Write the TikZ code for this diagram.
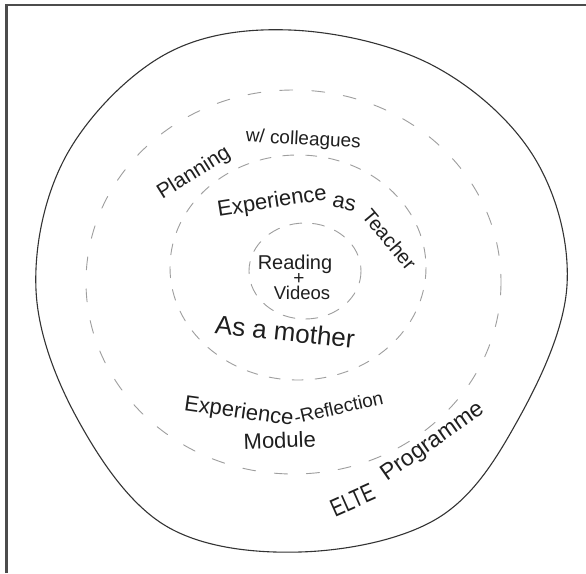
\documentclass[tikz,border=0pt]{standalone}
\usepackage{fontspec}
\setmainfont{Liberation Sans}
\newcommand{\fs}[1]{\fontsize{#1}{#1}\selectfont}
\begin{document}
\begin{tikzpicture}[x=1pt,y=-1pt,
  hand/.style={text=black!88, inner sep=0pt, anchor=base},
  ring/.style={draw=black!38, line width=0.9pt, line cap=round},
  frameline/.style={draw=black!70, line width=2.2pt},
  outer/.style={draw=black!80, line width=1.1pt}]
\useasboundingbox (0,0) rectangle (586,573);
\fill[white] (0,0) rectangle (586,573);
\draw[frameline] (6.5,573) -- (6.5,5) -- (586,5);
% outer hand-drawn circle
\draw[outer] plot[smooth cycle, tension=0.6] coordinates {
  (290,30) (432,65) (534,157) (567,285) (519,418) (438,518)
  (300,552) (166,526) (78,420) (36,290) (66,156) (164,55)};
% dashed rings
\draw[ring, dash pattern=on 13pt off 19pt] (293.5,282) ellipse [x radius=207.5, y radius=192];
\draw[ring, dash pattern=on 11pt off 12pt] (298,267.5) ellipse [x radius=128, y radius=112.5];
\draw[ring, dash pattern=on 12pt off 11pt] (305,271) ellipse [x radius=56, y radius=48];
% texts
\node[hand, rotate=32, font=\fs{21}] (plan) at (197,178) {Planning};
\node[hand, rotate=-3, font=\fs{19}] (coll) at (303,145) {w/ colleagues};
\node[hand, rotate=9, font=\fs{22}] (exp1) at (273,208) {Experience};
\node[hand, rotate=-12, font=\fs{22}] (as1) at (343,209) {as};
\node[hand, rotate=-50, font=\fs{20}] (teach) at (384,244) {Teacher};
\node[hand, font=\fs{20}] (read) at (295,269) {Reading};
\node[hand, anchor=center, font=\fs{19}] (plus) at (299,279) {+};
\node[hand, font=\fs{18.5}] (vid) at (302,299) {Videos};
\node[hand, rotate=-6, font=\fs{26}] (mother) at (284,341) {As a mother};
\node[hand, rotate=-8, font=\fs{22}] (exp2) at (238,418) {Experience};
\node[hand, rotate=13, font=\fs{19}] (refl) at (340,414) {-Reflection};
\node[hand, rotate=2, font=\fs{22}] (mod) at (280,448) {Module};
\node[hand, rotate=24, xscale=0.75, font=\fs{25}] (elte) at (356,508) {ELTE};
\node[hand, rotate=35, font=\fs{23}] (prog) at (436,447) {Programme};
\end{tikzpicture}
\end{document}
